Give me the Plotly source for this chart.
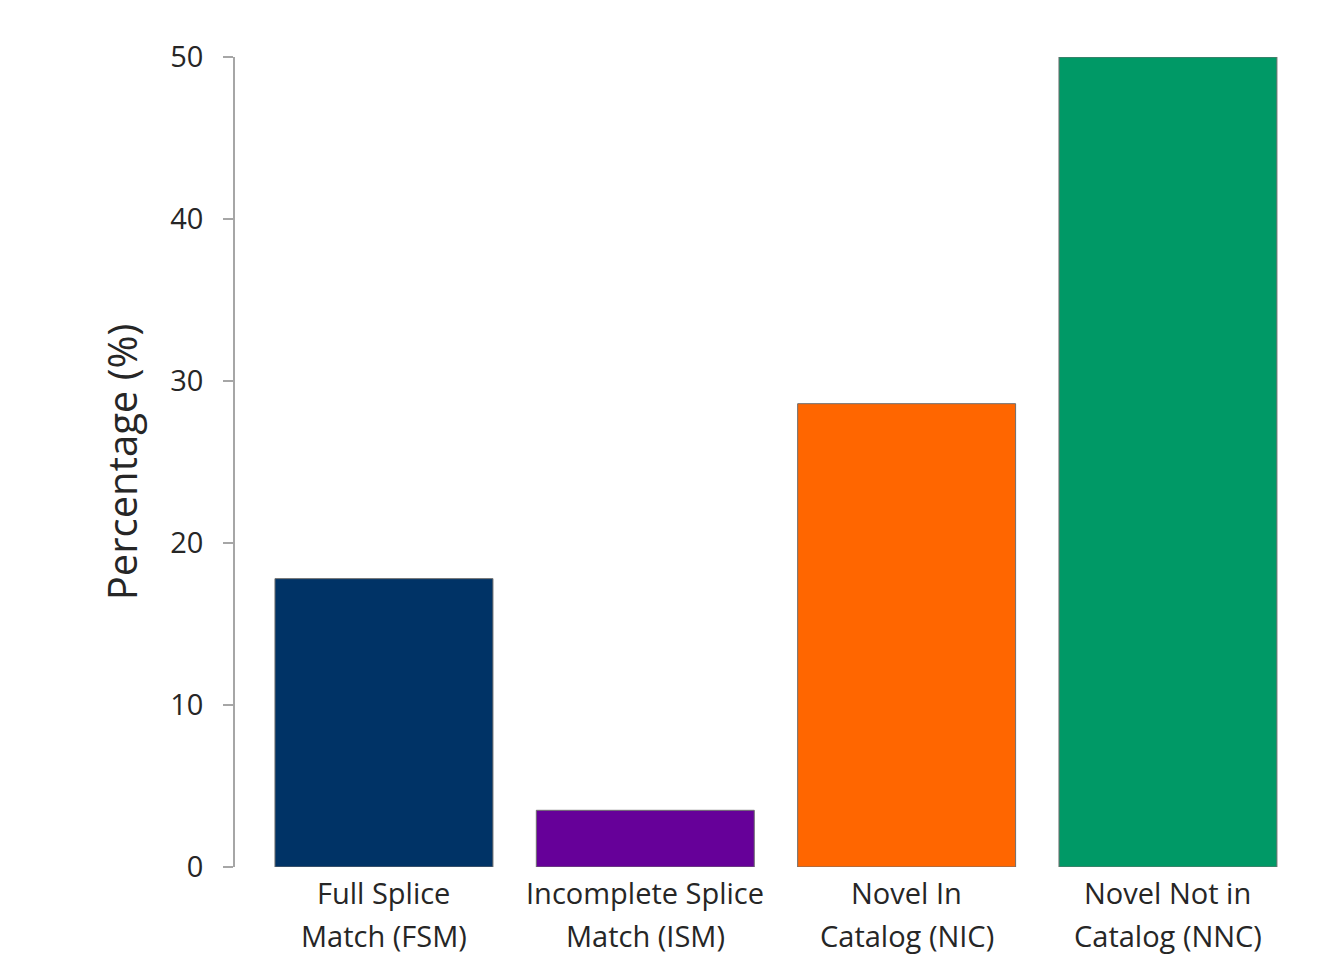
import plotly.graph_objects as go

# Structural category breakdown of transcripts
categories = ["FSM", "ISM", "NIC", "NNC"]
label_line1 = ["Full Splice", "Incomplete Splice", "Novel In", "Novel Not in"]
label_line2 = ["Match (FSM)", "Match (ISM)", "Catalog (NIC)", "Catalog (NNC)"]
percentages = [17.8, 3.5, 28.6, 50.0]
bar_colors = ["#003366", "#660099", "#FF6600", "#009966"]

y_ticks = [0, 10, 20, 30, 40, 50]

FONT = "Open Sans"
TEXT_COLOR = "#262626"

fig = go.Figure()
fig.add_trace(
    go.Bar(
        x=categories,
        y=percentages,
        width=0.834,
        marker=dict(color=bar_colors, line=dict(color="#6e6e6e", width=1)),
        showlegend=False,
    )
)

# Two-line category labels beneath each bar
for cat, l1, l2 in zip(categories, label_line1, label_line2):
    for text, shift in ((l1, -25), (l2, -68)):
        fig.add_annotation(
            x=cat, xref="x", y=0, yref="paper",
            text=text, showarrow=False,
            xanchor="center", yanchor="middle", yshift=shift,
            font=dict(family=FONT, size=29, color=TEXT_COLOR),
        )

fig.update_layout(
    width=1330, height=954,
    margin=dict(l=235, r=40, t=57, b=87),
    paper_bgcolor="white", plot_bgcolor="white",
    font=dict(family=FONT, color=TEXT_COLOR),
    xaxis=dict(
        range=[-0.570, 3.467],
        showticklabels=False, showline=False, showgrid=False,
        zeroline=False, ticks="",
    ),
    yaxis=dict(
        range=[0, 50],
        tickvals=y_ticks,
        ticks="outside", ticklen=10, tickwidth=1.5, tickcolor="#a6a6a6",
        showline=True, linecolor="#a6a6a6", linewidth=1.5,
        showgrid=False, zeroline=False,
        ticklabelstandoff=14,
        tickfont=dict(family=FONT, size=29, color=TEXT_COLOR),
        title=dict(text="Percentage (%)", standoff=20,
                   font=dict(family=FONT, size=40, color=TEXT_COLOR)),
    ),
)

fig.write_html("out.html")
